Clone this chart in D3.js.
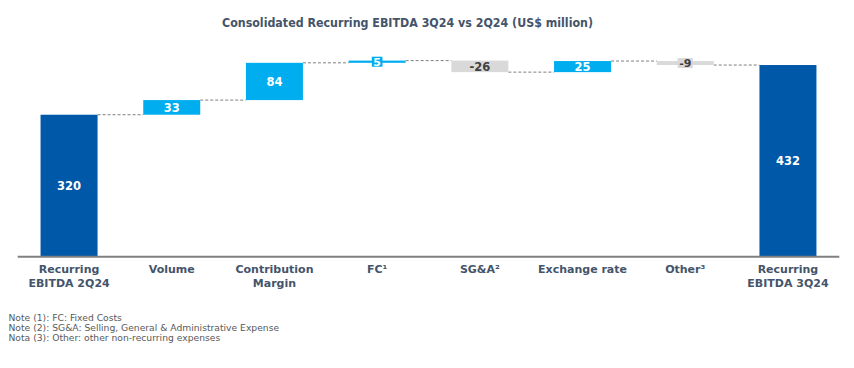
<!DOCTYPE html>
<html>
<head>
<meta charset="utf-8">
<script src="https://cdn.jsdelivr.net/npm/d3@7"></script>
<style>
  html, body { margin: 0; padding: 0; background: #ffffff; }
  svg { display: block; }
</style>
</head>
<body>
<svg id="chart" width="854" height="368"></svg>
<script>
// ---- data ----
const title = "Consolidated Recurring EBITDA 3Q24 vs 2Q24 (US$ million)";
const categories = ["Recurring\nEBITDA 2Q24", "Volume", "Contribution\nMargin", "FC¹", "SG&A²", "Exchange rate", "Other³", "Recurring\nEBITDA 3Q24"];
const values = [320, 33, 84, 5, -26, 25, -9, 432];
const kinds = ["total", "delta", "delta", "delta", "delta", "delta", "delta", "total"];
const notes = [
  "Note (1): FC: Fixed Costs",
  "Note (2): SG&A: Selling, General & Administrative Expense",
  "Nota (3): Other: other non-recurring expenses"
];

// ---- layout ----
const svg = d3.select("#chart");
const baseY = 256.7;
const colTotal = "#0058A8", colUp = "#00AEEF", colDown = "#D9D9D9";
const textCol = "#44546A";

// compute start / end for each bar
let run = 0;
const bars = values.map((v, i) => {
  let s, e;
  if (kinds[i] === "total") { s = 0; e = v; run = v; }
  else { s = run; e = run + v; run = e; }
  return { cat: categories[i], v, s, e, kind: kinds[i] };
});

const x = d3.scaleBand().domain(categories).range([17.7, 839.3]).paddingInner(0.445).paddingOuter(0.2225);
const y = d3.scaleLinear().domain([0, 442]).range([baseY, 60.6]);

// title
svg.append("text")
  .attr("x", 407.5).attr("y", 27.3)
  .attr("text-anchor", "middle")
  .attr("font-family", "DejaVu Sans, Verdana, sans-serif")
  .attr("font-weight", "bold")
  .attr("font-size", 12)
  .attr("fill", textCol)
  .attr("textLength", 371)
  .attr("lengthAdjust", "spacingAndGlyphs")
  .text(title);

// connectors
const g = svg.append("g");
bars.forEach((b, i) => {
  if (i === bars.length - 1) return;
  g.append("line")
    .attr("x1", x(b.cat) + x.bandwidth())
    .attr("x2", x(bars[i + 1].cat))
    .attr("y1", y(b.e)).attr("y2", y(b.e))
    .attr("stroke", "#7F7F7F").attr("stroke-width", 1)
    .attr("stroke-dasharray", "3,2");
});

// bars
const colorOf = b => b.kind === "total" ? colTotal : (b.v >= 0 ? colUp : colDown);
g.selectAll("rect.bar").data(bars).join("rect")
  .attr("class", "bar")
  .attr("x", d => x(d.cat))
  .attr("width", x.bandwidth())
  .attr("y", d => y(Math.max(d.s, d.e)))
  .attr("height", d => Math.abs(y(d.s) - y(d.e)))
  .attr("fill", colorOf);

// axis baseline
svg.append("line")
  .attr("x1", 17.7).attr("x2", 839.3)
  .attr("y1", baseY).attr("y2", baseY)
  .attr("stroke", "#808080").attr("stroke-width", 2);

// value labels
bars.forEach(b => {
  const cx = x(b.cat) + x.bandwidth() / 2;
  const cy = (y(b.s) + y(b.e)) / 2;
  const h = Math.abs(y(b.s) - y(b.e));
  const small = h < 10;
  const fill = b.kind === "total" || b.v >= 0 ? "#ffffff" : "#404040";
  const lbl = svg.append("g");
  const tx = lbl.append("text")
    .attr("x", cx).attr("y", cy).attr("dy", "0.37em")
    .attr("text-anchor", "middle")
    .attr("font-family", "DejaVu Sans, Verdana, sans-serif")
    .attr("font-weight", "bold")
    .attr("font-size", small ? 11 : 11.5)
    .attr("fill", fill)
    .text(b.v);
  if (small) {
    const w = tx.node().getComputedTextLength();
    lbl.insert("rect", "text")
      .attr("x", cx - w / 2 - 1.5).attr("width", w + 3)
      .attr("y", cy - 5).attr("height", 10)
      .attr("fill", colorOf(b));
  }
});

// category labels
const lab = svg.append("g");
bars.forEach(b => {
  const cx = x(b.cat) + x.bandwidth() / 2;
  const lines = b.cat.split("\n");
  const tt = lab.append("text")
    .attr("text-anchor", "middle")
    .attr("font-family", "DejaVu Sans, Verdana, sans-serif")
    .attr("font-weight", "bold")
    .attr("font-size", 11)
    .attr("fill", textCol);
  lines.forEach((ln, j) => {
    tt.append("tspan").attr("x", cx).attr("y", 272.7 + j * 14.6).text(ln);
  });
});

// notes: size fitted so the third note spans ~212px
const noteG = svg.append("g")
  .attr("font-family", "DejaVu Sans, Verdana, sans-serif")
  .attr("font-size", 10)
  .attr("fill", "#595959");
const noteTexts = notes.map((n, i) => noteG.append("text")
  .attr("x", 8.5).attr("y", 320.7 + i * 10)
  .text(n));
const nat = noteTexts[2].node().getComputedTextLength();
noteG.attr("font-size", 10 * 212 / nat);
</script>
</body>
</html>
